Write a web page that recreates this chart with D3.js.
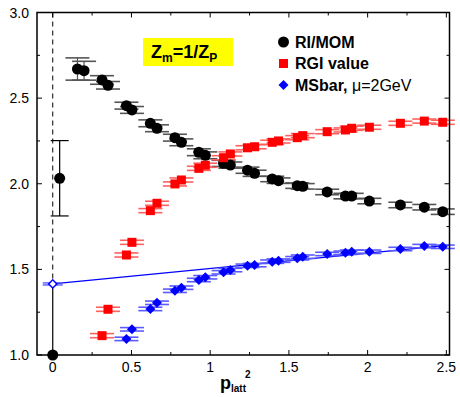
<!DOCTYPE html>
<html><head><meta charset="utf-8">
<script src="https://cdn.jsdelivr.net/npm/d3@7"></script>
<style>body{margin:0;background:#fff}svg{display:block;font-family:"Liberation Sans",Arial,sans-serif}</style>
</head><body><svg id="c" width="460" height="397"></svg>
<script>
const p2 = [0.157,0.199,0.313,0.351,0.468,0.503,0.620,0.662,0.776,0.817,0.928,0.969,1.085,1.128,1.237,1.282,1.394,1.434,1.553,1.588,1.743,1.859,1.899,2.011,2.208,2.360,2.477];
const riMom = [2.67,2.66,2.606,2.575,2.456,2.431,2.353,2.324,2.269,2.242,2.184,2.166,2.119,2.109,2.079,2.061,2.028,2.018,1.989,1.985,1.952,1.928,1.928,1.899,1.876,1.863,1.837];
const riMomErr = [0.065,0.055,0.025,0.022,0.02,0.02,0.02,0.02,0.02,0.02,0.02,0.02,0.018,0.018,0.018,0.018,0.016,0.016,0.016,0.016,0.016,0.016,0.016,0.016,0.016,0.016,0.016];
const rgi = [null,null,1.113,1.267,1.584,1.658,1.843,1.886,1.999,2.022,2.090,2.108,2.152,2.174,2.210,2.216,2.242,2.250,2.269,2.281,2.304,2.314,2.324,2.330,2.353,2.366,2.359];
const msbar = [null,null,null,null,1.094,1.150,1.269,1.305,1.375,1.393,1.438,1.454,1.483,1.496,1.521,1.525,1.545,1.551,1.565,1.574,1.590,1.597,1.603,1.603,1.619,1.636,1.632];
const extrapX = [0, 0.044];
const extrapY = [1.0, 2.032];
const extrapErr = [0, 0.22];
const msbarZero = 1.415;
const fitX = [0, 2.52];
const fitY = [1.415, 1.642];
const xTicks = [0, 0.5, 1, 1.5, 2, 2.5];
const xTickLabels = ["0","0.5","1","1.5","2","2.5"];
const yTicks = [1.0, 1.5, 2.0, 2.5, 3.0];
const yTickLabels = ["1.0","1.5","2.0","2.5","3.0"];
const legendLabels = ["RI/MOM","RGI value","MSbar,"];

const svg = d3.select("#c");
const L=37,R=449.5,T=12.5,B=355;
const x = d3.scaleLinear().domain([-0.1,2.52]).range([L,R]);
const y = d3.scaleLinear().domain([1,3]).range([B,T]);

// ticks (major + minor, inward, all four sides)
const xMinor = d3.range(0,2.51,0.25), yMinor = d3.range(1,3.01,0.25);
const tk = svg.append("g").attr("stroke","#000").attr("stroke-width",1);
xMinor.forEach(v=>{const len = (Math.abs(v*2-Math.round(v*2))<1e-6)?5:3;
  tk.append("line").attr("x1",x(v)).attr("x2",x(v)).attr("y1",B).attr("y2",B-len);
  tk.append("line").attr("x1",x(v)).attr("x2",x(v)).attr("y1",T).attr("y2",T+len);});
yMinor.forEach(v=>{const len = (Math.abs(v*2-Math.round(v*2))<1e-6)?5:3;
  tk.append("line").attr("x1",L).attr("x2",L+len).attr("y1",y(v)).attr("y2",y(v));
  tk.append("line").attr("x1",R).attr("x2",R-len).attr("y1",y(v)).attr("y2",y(v));});

// tick labels
svg.append("g").selectAll("text").data(xTicks).join("text")
  .attr("x",d=>x(d)).attr("y",372).attr("text-anchor","middle").attr("font-size",14).text((d,i)=>xTickLabels[i]);
svg.append("g").selectAll("text").data(yTicks).join("text")
  .attr("x",29).attr("y",d=>y(d)+5).attr("text-anchor","end").attr("font-size",14).text((d,i)=>yTickLabels[i]);

// vertical line at 0: dashed above the open diamond, solid below
svg.append("line").attr("x1",x(0)).attr("x2",x(0)).attr("y1",T).attr("y2",y(msbarZero))
  .attr("stroke","#000").attr("stroke-width",1).attr("stroke-dasharray","5,4");
svg.append("line").attr("x1",x(0)).attr("x2",x(0)).attr("y1",y(msbarZero)).attr("y2",y(1))
  .attr("stroke","#000").attr("stroke-width",1.2);

// fit line
svg.append("path").datum(fitX.map((v,i)=>[v,fitY[i]]))
  .attr("d",d3.line().x(d=>x(d[0])).y(d=>y(d[1])))
  .attr("fill","none").attr("stroke","#0000ff").attr("stroke-width",1.2);

function caps(g, xs, ys, errs, color){
  xs.forEach((xv,i)=>{ if(ys[i]==null) return; const e = Array.isArray(errs)?errs[i]:errs;
    [ys[i]-e, ys[i]+e].forEach(v=>{
      g.append("line").attr("x1",x(xv)-12).attr("x2",x(xv)+12).attr("y1",y(v)).attr("y2",y(v))
       .attr("stroke",color).attr("stroke-width",1.6);});
    g.append("line").attr("x1",x(xv)).attr("x2",x(xv)).attr("y1",y(ys[i]-e)).attr("y2",y(ys[i]+e))
       .attr("stroke",color).attr("stroke-width",1.2);
  });
}
const gE = svg.append("g");
caps(gE, p2, riMom, riMomErr, "#555");
caps(gE, p2, rgi, 0.012, "#ff6060");
caps(gE, p2, msbar, 0.01, "#5a5aff");

// extrapolated point error bar
const gx = svg.append("g").attr("stroke","#000").attr("stroke-width",1.2);
gx.append("line").attr("x1",x(extrapX[1])).attr("x2",x(extrapX[1])).attr("y1",y(extrapY[1]-extrapErr[1])).attr("y2",y(extrapY[1]+extrapErr[1]));
[extrapY[1]-extrapErr[1], extrapY[1]+extrapErr[1]].forEach(v=>gx.append("line").attr("x1",x(extrapX[1])-9).attr("x2",x(extrapX[1])+9).attr("y1",y(v)).attr("y2",y(v)));

// markers
const nn = (arr)=>p2.map((v,i)=>[v,arr[i]]).filter(d=>d[1]!=null);
svg.append("g").selectAll("circle").data(nn(riMom).concat(extrapX.map((v,i)=>[v,extrapY[i]]))).join("circle")
  .attr("cx",d=>x(d[0])).attr("cy",d=>y(d[1])).attr("r",5.5).attr("fill","#000");
svg.append("g").selectAll("rect").data(nn(rgi)).join("rect")
  .attr("x",d=>x(d[0])-4.5).attr("y",d=>y(d[1])-4.5).attr("width",9).attr("height",9).attr("fill","#ff0000");
svg.append("g").selectAll("path").data(nn(msbar)).join("path")
  .attr("d",d3.symbol().type(d3.symbolSquare).size(50))
  .attr("transform",d=>`translate(${x(d[0])},${y(d[1])}) rotate(45)`)
  .attr("fill","#0000ff");
// open diamond at 0
[msbarZero-0.006, msbarZero+0.006].forEach(v=>svg.append("line").attr("x1",x(0)-10).attr("x2",x(0)+10).attr("y1",y(v)).attr("y2",y(v)).attr("stroke","#5a5aff").attr("stroke-width",1.4));
svg.append("path").attr("d",d3.symbol().type(d3.symbolSquare).size(34)).attr("transform",`translate(${x(0)},${y(msbarZero)}) rotate(45)`)
  .attr("fill","#fff").attr("stroke","#0000ff").attr("stroke-width",1.5);

// frame
svg.append("rect").attr("x",L).attr("y",T).attr("width",R-L).attr("height",B-T).attr("fill","none").attr("stroke","#000").attr("stroke-width",1.5);

// yellow box
svg.append("rect").attr("x",143).attr("y",38).attr("width",90).attr("height",28).attr("fill","#ffff00");
const zt = svg.append("text").attr("x",151).attr("y",57.5).attr("font-weight","bold").attr("font-size",18);
zt.append("tspan").text("Z");
zt.append("tspan").attr("font-size",12).attr("dy",4).text("m");
zt.append("tspan").attr("dy",-4).text("=1/Z");
zt.append("tspan").attr("font-size",12).attr("dy",4).text("P");

// legend
const lg = svg.append("g");
lg.append("circle").attr("cx",283.5).attr("cy",42).attr("r",5.5).attr("fill","#000");
lg.append("rect").attr("x",279).attr("y",59).attr("width",9).attr("height",9).attr("fill","#ff0000");
lg.append("path").attr("d",d3.symbol().type(d3.symbolSquare).size(50)).attr("transform","translate(283.5,85) rotate(45)").attr("fill","#0000ff");
lg.append("text").attr("x",295).attr("y",47.5).attr("font-weight","bold").attr("font-size",16).text(legendLabels[0]);
lg.append("text").attr("x",295).attr("y",69).attr("font-weight","bold").attr("font-size",16).text(legendLabels[1]);
const mt = lg.append("text").attr("x",295).attr("y",91).attr("font-size",16);
mt.append("tspan").attr("font-weight","bold").text(legendLabels[2]);
mt.append("tspan").text(" \u03bc=2GeV");

// x label: p with subscript latt and superscript 2
const xl = svg.append("text").attr("x",220).attr("y",389).attr("font-weight","bold").attr("font-size",18);
xl.append("tspan").text("p");
xl.append("tspan").attr("font-size",10).attr("dy",3).text("latt");
svg.append("text").attr("x",245).attr("y",378).attr("font-weight","bold").attr("font-size",10).text("2");
</script></body></html>
